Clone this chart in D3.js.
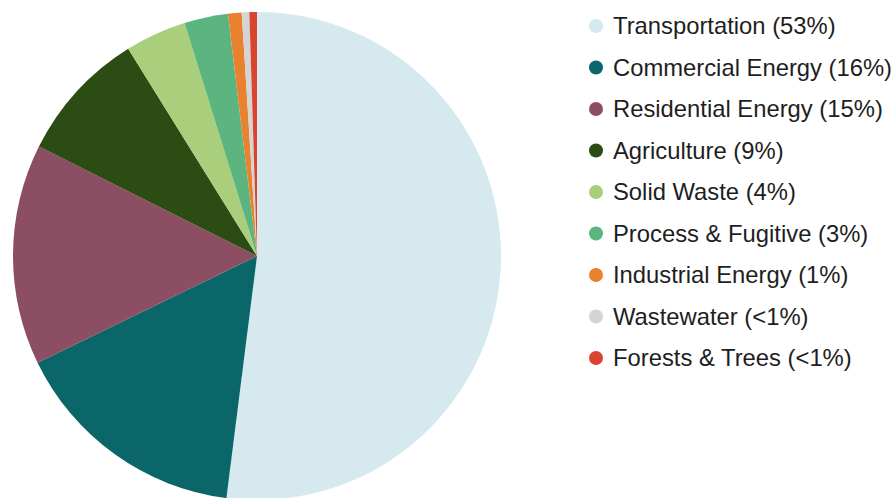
<!DOCTYPE html>
<html>
<head>
<meta charset="utf-8">
<script src="https://cdn.jsdelivr.net/npm/d3@7"></script>
<style>
  html, body { margin: 0; padding: 0; background: #ffffff; }
  svg { display: block; }
</style>
</head>
<body>
<svg id="chart" width="896" height="498"></svg>
<script>
const categories = ["Transportation", "Commercial Energy", "Residential Energy", "Agriculture", "Solid Waste", "Process & Fugitive", "Industrial Energy", "Wastewater", "Forests & Trees"];
const values = [52.0, 15.8, 14.6, 8.75, 4.05, 2.9, 0.9, 0.5, 0.5];
const legendLabels = ["Transportation (53%)", "Commercial Energy (16%)", "Residential Energy (15%)", "Agriculture (9%)", "Solid Waste (4%)", "Process & Fugitive (3%)", "Industrial Energy (1%)", "Wastewater (<1%)", "Forests & Trees (<1%)"];
const colors = ["#d5e9ef", "#0b6669", "#8b4e62", "#2b4d14", "#a9cf7d", "#5cb57f", "#e8822e", "#d4d4d4", "#d9442f"];

const svg = d3.select("#chart");
const cx = 257, cy = 256, r = 244;

const data = categories.map((c, i) => ({ name: c, value: values[i], label: legendLabels[i] }));
const color = d3.scaleOrdinal().domain(categories).range(colors);

const pie = d3.pie().sort(null).value(d => d.value).startAngle(0).endAngle(2 * Math.PI);
const arc = d3.arc().innerRadius(0).outerRadius(r);

svg.append("g")
  .attr("transform", `translate(${cx},${cy})`)
  .selectAll("path")
  .data(pie(data))
  .join("path")
  .attr("d", arc)
  .attr("fill", d => color(d.data.name));

const legendY = d3.scalePoint().domain(categories).range([26, 358]);
const lg = svg.append("g");
const items = lg.selectAll("g").data(data).join("g")
  .attr("transform", d => `translate(0,${legendY(d.name)})`);
items.append("circle")
  .attr("cx", 596).attr("cy", 0).attr("r", 7)
  .attr("fill", d => color(d.name));
items.append("text")
  .attr("x", 613).attr("y", 0).attr("dy", "0.35em")
  .style("font-family", "'Liberation Sans', Arial, sans-serif")
  .style("font-size", "23.8px")
  .attr("fill", "#1e1e1e")
  .text(d => d.label);
</script>
</body>
</html>
